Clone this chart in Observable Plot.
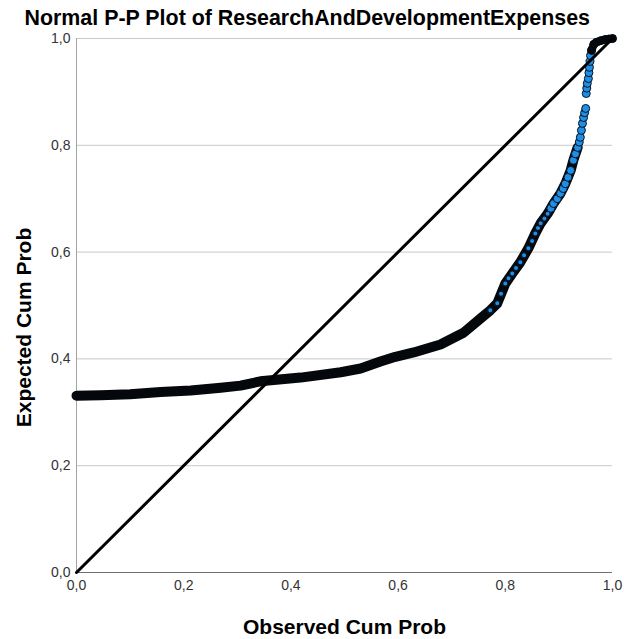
<!DOCTYPE html>
<html>
<head>
<meta charset="utf-8">
<script src="https://cdn.jsdelivr.net/npm/d3@7"></script>
<script src="https://cdn.jsdelivr.net/npm/@observablehq/plot@0.6"></script>
<style>
  html, body { margin: 0; padding: 0; background: #fff; }
</style>
</head>
<body>
<div id="chart"></div>
<script>
// Normal P-P plot: observed cumulative probability vs expected (normal) cumulative probability.

// Long, dense run of cases (points overlap into a solid band)
const runObserved = [0, 0.045, 0.10, 0.157, 0.213, 0.269, 0.306, 0.343, 0.418, 0.493, 0.530, 0.567,
  0.595, 0.629, 0.679, 0.722, 0.754, 0.772, 0.785, 0.800, 0.813, 0.828, 0.843, 0.856, 0.866,
  0.879, 0.890, 0.903, 0.912, 0.922, 0.927, 0.935];
const runExpected = [0.331, 0.332, 0.334, 0.338, 0.341, 0.346, 0.350, 0.358, 0.365, 0.375, 0.382, 0.395,
  0.404, 0.412, 0.427, 0.449, 0.476, 0.491, 0.504, 0.541, 0.560, 0.581, 0.607, 0.635, 0.654,
  0.672, 0.691, 0.710, 0.728, 0.753, 0.772, 0.796];

// Cases in the bend, still packed closely together
const bendObserved = [0.772, 0.785, 0.792, 0.800, 0.806, 0.813, 0.820, 0.828, 0.835, 0.843, 0.850, 0.856,
  0.861, 0.866, 0.873, 0.879];
const bendExpected = [0.491, 0.504, 0.522, 0.541, 0.551, 0.560, 0.570, 0.581, 0.594, 0.607, 0.621, 0.635,
  0.645, 0.654, 0.663, 0.672];

// Upper tail, where individual cases separate
const tailObserved = [0.885, 0.890, 0.897, 0.903, 0.908, 0.912, 0.917, 0.922, 0.927,
  0.931, 0.935, 0.938, 0.940, 0.942, 0.944, 0.946, 0.948, 0.950, 0.951, 0.952, 0.953, 0.955,
  0.956, 0.957, 0.958, 0.959, 0.961];
const tailExpected = [0.682, 0.691, 0.700, 0.710, 0.719, 0.728, 0.740, 0.753, 0.772,
  0.784, 0.796, 0.806, 0.815, 0.828, 0.841, 0.852, 0.861, 0.869, 0.897, 0.907, 0.916, 0.925,
  0.936, 0.946, 0.957, 0.968, 0.978];

// Cluster of the largest cases at the top
const topObserved = [0.961, 0.965, 0.970, 0.978, 0.986, 0.993, 1.0];
const topExpected = [0.978, 0.989, 0.993, 0.996, 0.998, 0.999, 1.0];

// Reference line y = x
const diagonalObserved = [0, 1];
const diagonalExpected = [0, 1];

const tickValues = [0, 0.2, 0.4, 0.6, 0.8, 1.0];
const tickFormat = d => d.toFixed(1).replace(".", ",");

const titleText = "Normal P-P Plot of ResearchAndDevelopmentExpenses";
const xLabel = "Observed Cum Prob";
const yLabel = "Expected Cum Prob";

const pairs = (xs, ys) => xs.map((x, i) => ({x, y: ys[i]}));
const runCases = pairs(runObserved, runExpected);
const bendCases = pairs(bendObserved, bendExpected);
const tailCases = pairs(tailObserved, tailExpected);
const topCases = pairs(topObserved, topExpected);
const diagonal = pairs(diagonalObserved, diagonalExpected);

const bandStyle = {x: "x", y: "y", stroke: "#04080c", strokeWidth: 10,
  strokeLinecap: "round", strokeLinejoin: "round"};
const dotStyle = {x: "x", y: "y", r: 4, fill: "#1f8fe6", stroke: "#06121f", strokeWidth: 1};

const chart = Plot.plot({
  width: 624,
  height: 639,
  marginLeft: 76,
  marginRight: 12,
  marginTop: 38,
  marginBottom: 67,
  x: {domain: [0, 1]},
  y: {domain: [0, 1]},
  style: {fontFamily: "'Liberation Sans', Arial, sans-serif", background: "#fff", color: "#333"},
  marks: [
    Plot.gridY(tickValues, {stroke: "#c9c9c9", strokeOpacity: 1}),
    Plot.ruleX([0], {stroke: "#a3a3a3"}),
    Plot.ruleY([0], {stroke: "#6f6f6f"}),
    Plot.axisX(tickValues, {tickSize: 0, tickPadding: 8, tickFormat, fontSize: 14, label: null, fill: "#333"}),
    Plot.axisY(tickValues, {tickSize: 0, tickPadding: 6, tickFormat, fontSize: 14, label: null, fill: "#333"}),
    Plot.line(runCases, bandStyle),
    Plot.dot(bendCases, {...dotStyle, r: 2.8, strokeWidth: 1.6}),
    Plot.dot(tailCases, dotStyle),
    Plot.dot(topCases, dotStyle),
    Plot.line(topCases, {...bandStyle, strokeWidth: 8}),
    Plot.line(diagonal, {x: "x", y: "y", stroke: "#000", strokeWidth: 3}),
    Plot.text([titleText], {frameAnchor: "top-left", dx: -52, dy: -20, textAnchor: "start",
      lineAnchor: "middle", fontSize: 21.4, fontWeight: "bold", fill: "#000"}),
    Plot.text([xLabel], {frameAnchor: "bottom", dy: 55, lineAnchor: "middle",
      fontSize: 21, fontWeight: "bold", fill: "#000"}),
    Plot.text([yLabel], {frameAnchor: "left", dx: -52.5, dy: 22, rotate: -90, textAnchor: "middle",
      lineAnchor: "middle", fontSize: 21, fontWeight: "bold", fill: "#000"})
  ]
});

document.getElementById("chart").appendChild(chart);
</script>
</body>
</html>
